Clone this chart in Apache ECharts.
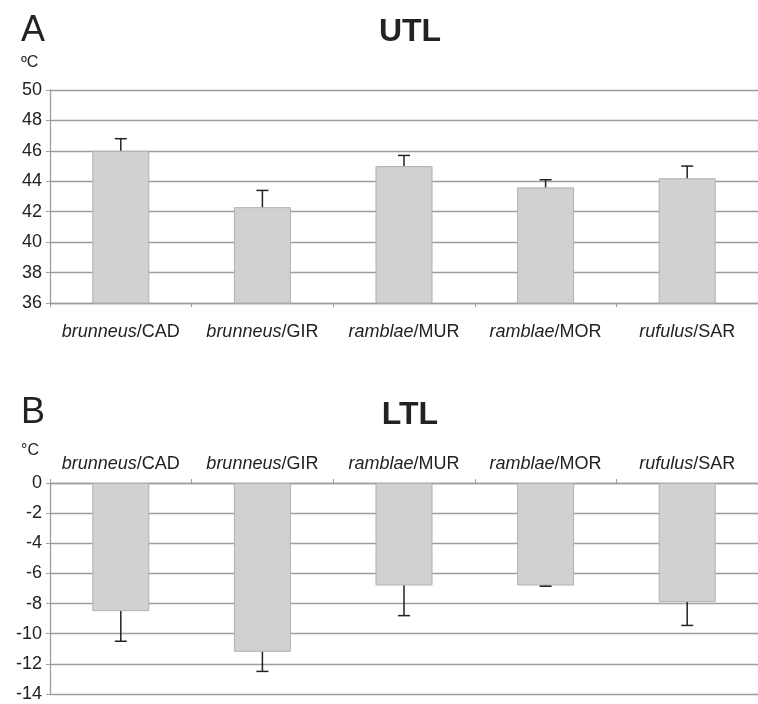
<!DOCTYPE html>
<html>
<head>
<meta charset="utf-8">
<script src="https://cdn.jsdelivr.net/npm/echarts@6/dist/echarts.min.js"></script>
<style>
  html, body { margin: 0; padding: 0; background: #fff; }
  #main { width: 758px; height: 704px; }
</style>
</head>
<body>
<div id="main"></div>
<script>
// species / population pairs
var species = ['brunneus', 'brunneus', 'ramblae', 'ramblae', 'rufulus'];
var pops = ['CAD', 'GIR', 'MUR', 'MOR', 'SAR'];

// upper thermal limit (mean, +error)
var utlMean = [46.0, 42.3, 45.0, 43.6, 44.2];
var utlErr = [0.8, 1.1, 0.7, 0.5, 0.8];

// lower thermal limit (mean, -error)
var ltlMean = [-8.5, -11.2, -6.8, -6.8, -7.9];
var ltlErr = [2.0, 1.3, 2.0, 0.05, 1.55];

var categories = species.map(function (s, i) { return s + '/' + pops[i]; });

var FONT = '"Liberation Sans", Arial, sans-serif';
var gridColor = '#9e9e9e';

function catLabel(v) {
  var p = v.split('/');
  return '{i|' + p[0] + '}{n|/' + p[1] + '}';
}

var labelRich = {
  i: { fontStyle: 'italic', fontSize: 18, fontFamily: FONT, color: '#222' },
  n: { fontSize: 18, fontFamily: FONT, color: '#222' }
};

// error bar: vertical line from the bar end to the error end, plus a cap
function errRender(params, api) {
  var x = api.value(0);
  var p0 = api.coord([x, api.value(1)]);
  var p1 = api.coord([x, api.value(2)]);
  var st = { stroke: '#222', lineWidth: 1.5 };
  return {
    type: 'group',
    children: [
      { type: 'line', shape: { x1: p0[0], y1: p0[1], x2: p1[0], y2: p1[1] }, style: st },
      { type: 'line', shape: { x1: p1[0] - 6, y1: p1[1], x2: p1[0] + 6, y2: p1[1] }, style: st }
    ]
  };
}

var utlErrData = utlMean.map(function (m, i) { return [i, m, m + utlErr[i]]; });
var ltlErrData = ltlMean.map(function (m, i) { return [i, m, m - ltlErr[i]]; });

function valueAxis(idx, min, max) {
  return {
    type: 'value', gridIndex: idx, min: min, max: max, interval: 2,
    axisLine: { show: true, lineStyle: { color: gridColor, width: 1.3 } },
    axisTick: { show: true, length: 4, lineStyle: { color: gridColor } },
    axisLabel: { fontSize: 18, fontFamily: FONT, color: '#222', margin: 8 },
    splitLine: { lineStyle: { color: gridColor, width: 1.3 } }
  };
}

function catAxis(idx, pos, margin) {
  return {
    type: 'category', gridIndex: idx, data: categories, position: pos,
    axisLine: { show: true, onZero: false, lineStyle: { color: gridColor, width: 1.3 } },
    axisTick: { show: true, length: 4, lineStyle: { color: gridColor } },
    axisLabel: { formatter: catLabel, rich: labelRich, margin: margin, interval: 0 }
  };
}

var barStyle = { color: '#d0d1d3', borderColor: '#b0b1b3', borderWidth: 1 };

var myChart = echarts.init(document.getElementById('main'));
var option = {
  animation: false,
  backgroundColor: '#fff',
  title: [
    { text: 'A', left: 16, top: 8, textStyle: { fontSize: 36, fontWeight: 'normal', fontFamily: FONT, color: '#222' } },
    { text: 'UTL', left: 405, top: 11, textAlign: 'center', textStyle: { fontSize: 32, fontWeight: 'bold', fontFamily: FONT, color: '#222' } },
    { text: 'ºC', left: 16, top: 50, textStyle: { fontSize: 16, fontWeight: 'normal', fontFamily: FONT, color: '#222' } },
    { text: 'B', left: 16, top: 390, textStyle: { fontSize: 36, fontWeight: 'normal', fontFamily: FONT, color: '#222' } },
    { text: 'LTL', left: 405, top: 394, textAlign: 'center', textStyle: { fontSize: 32, fontWeight: 'bold', fontFamily: FONT, color: '#222' } },
    { text: '°C', left: 16, top: 438, textStyle: { fontSize: 16, fontWeight: 'normal', fontFamily: FONT, color: '#222' } }
  ],
  grid: [
    { left: 50, top: 90, width: 718, height: 213 },
    { left: 50, top: 483, width: 718, height: 211 }
  ],
  xAxis: [catAxis(0, 'bottom', 20), catAxis(1, 'top', 10)],
  yAxis: [valueAxis(0, 36, 50), valueAxis(1, -14, 0)],
  series: [
    { type: 'bar', xAxisIndex: 0, yAxisIndex: 0, data: utlMean, barWidth: 57, itemStyle: barStyle },
    { type: 'custom', xAxisIndex: 0, yAxisIndex: 0, data: utlErrData, renderItem: errRender, encode: { x: 0, y: [1, 2] }, z: 5 },
    { type: 'bar', xAxisIndex: 1, yAxisIndex: 1, data: ltlMean, barWidth: 57, itemStyle: barStyle },
    { type: 'custom', xAxisIndex: 1, yAxisIndex: 1, data: ltlErrData, renderItem: errRender, encode: { x: 0, y: [1, 2] }, z: 5 }
  ]
};
myChart.setOption(option);
</script>
</body>
</html>
